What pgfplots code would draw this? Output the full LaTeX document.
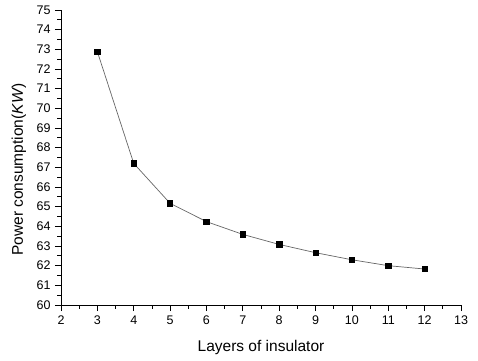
\documentclass[border=0pt]{standalone}
\usepackage{pgfplots}
\pgfplotsset{compat=1.18}
\usepackage{fontspec}
\setmainfont{Liberation Sans}
\begin{document}
\begin{tikzpicture}
\begin{axis}[
  scale only axis,
  width=400pt, height=295pt,
  xmin=2, xmax=13, ymin=60, ymax=75,
  xtick={2,...,13}, ytick={60,...,75},
  minor x tick num=1, minor y tick num=1,
  axis lines*=left,
  axis line style={line width=0.8pt},
  tick style={black, line width=0.8pt},
  tick align=outside,
  major tick length=6pt, minor tick length=3.5pt,
  /pgf/number format/assume math mode=true,
  tick label style={font=\fontsize{12.5}{13}\selectfont},
  xticklabel style={yshift=-1pt},
  yticklabel style={xshift=-1pt},
  xlabel={Layers of insulator},
  ylabel={Power consumption(\textit{KW})},
  label style={font=\fontsize{15.5}{17}\selectfont},
  xlabel style={at={(axis description cs:0.5,-0.159)}, anchor=base},
  ylabel style={at={(axis description cs:-0.095,0.46)}, anchor=base},
  clip=false,
]
\addplot[color=gray!80!black, line width=0.7pt, mark=square*, mark size=2.7pt,
  mark options={fill=black, draw=black, solid}] coordinates {
(3,72.88) (4,67.20) (5,65.17) (6,64.24) (7,63.59) (8,63.08) (9,62.66) (10,62.30) (11,62.00) (12,61.83)
};
\end{axis}
\pgfresetboundingbox
\path (-61pt,-55pt) rectangle (417pt,305pt);
\end{tikzpicture}
\end{document}
